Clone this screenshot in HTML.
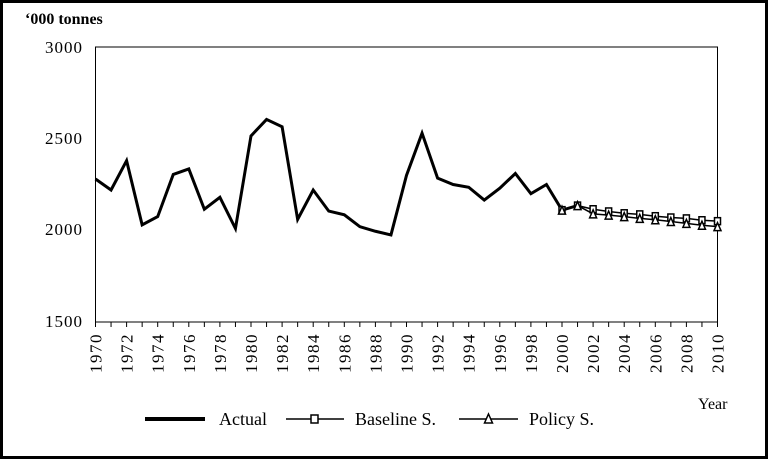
<!DOCTYPE html>
<html><head><meta charset="utf-8"><style>body{margin:0;background:#fff}svg{display:block}</style></head><body>
<svg width="769" height="460" xmlns="http://www.w3.org/2000/svg" font-family="Liberation Serif, serif">
<rect x="1.5" y="1.5" width="765" height="456" fill="#fff" stroke="#000" stroke-width="3"/>
<rect x="95.5" y="47" width="622" height="275" fill="none" stroke="#000" stroke-width="1"/>
<text x="25" y="24" font-size="16" font-weight="bold">‘000 tonnes</text>
<g font-size="17" text-anchor="end" letter-spacing="1">
<text x="83" y="53">3000</text><text x="83" y="144">2500</text><text x="83" y="235">2000</text><text x="83" y="327">1500</text>
</g>
<g id="ticks" stroke="#000"></g>
<g id="labels" font-size="17" letter-spacing="1.5" text-anchor="end"></g>
<path id="actual" fill="none" stroke="#000" stroke-width="3" stroke-linejoin="miter"/>
<path id="base" fill="none" stroke="#000" stroke-width="1.5"/>
<path id="pol" fill="none" stroke="#000" stroke-width="1.5"/>
<g id="mk" fill="#fff" stroke="#000" stroke-width="1.5"></g>
<text x="698" y="409" font-size="16">Year</text>
<line x1="145" y1="419" x2="205" y2="419" stroke="#000" stroke-width="4"/>
<text x="219" y="425" font-size="18">Actual</text>
<line x1="286" y1="419" x2="344" y2="419" stroke="#000" stroke-width="1.5"/>
<rect x="311" y="415" width="7" height="8" fill="#fff" stroke="#000" stroke-width="1.5"/>
<text x="355" y="425" font-size="18">Baseline S.</text>
<line x1="459" y1="419" x2="518" y2="419" stroke="#000" stroke-width="1.5"/>
<path d="M488.5 414 L492.5 423 L484.5 423 Z" fill="#fff" stroke="#000" stroke-width="1.5"/>
<text x="529" y="425" font-size="18">Policy S.</text>
</svg>
<script>
const X=y=>95.5+(y-1970)*15.55, Y=v=>322-(v-1500)*0.18333;
const act=[2280,2220,2380,2030,2075,2305,2335,2115,2180,2010,2515,2605,2565,2060,2220,2105,2085,2020,1995,1975,2300,2530,2285,2250,2235,2165,2230,2310,2200,2250,2110,2135];
const base=[2110,2135,2115,2103,2093,2087,2077,2070,2065,2055,2050];
const pol=[2110,2135,2090,2083,2075,2065,2058,2048,2038,2028,2020];
document.getElementById('actual').setAttribute('d','M'+act.map((v,i)=>X(1970+i)+' '+Y(v)).join(' L'));
document.getElementById('base').setAttribute('d','M'+base.map((v,i)=>X(2000+i)+' '+Y(v)).join(' L'));
document.getElementById('pol').setAttribute('d','M'+pol.map((v,i)=>X(2000+i)+' '+Y(v)).join(' L'));
let t=document.getElementById('ticks'),l=document.getElementById('labels'),m=document.getElementById('mk');
for(let y=1970;y<=2010;y++){let x=X(y);t.innerHTML+=`<line x1="${x}" y1="322" x2="${x}" y2="327"/>`;
 if(y%2==0) l.innerHTML+=`<text transform="translate(${x+6},333) rotate(-90)">${y}</text>`;}
for(let i=0;i<=10;i++){let x=X(2000+i);
 m.innerHTML+=`<rect x="${x-3}" y="${Y(base[i])-3.5}" width="6" height="7"/>`;
 let y=Y(pol[i]);m.innerHTML+=`<path d="M${x} ${y-4} L${x+3.5} ${y+4} L${x-3.5} ${y+4} Z"/>`;}
</script>
</body></html>
